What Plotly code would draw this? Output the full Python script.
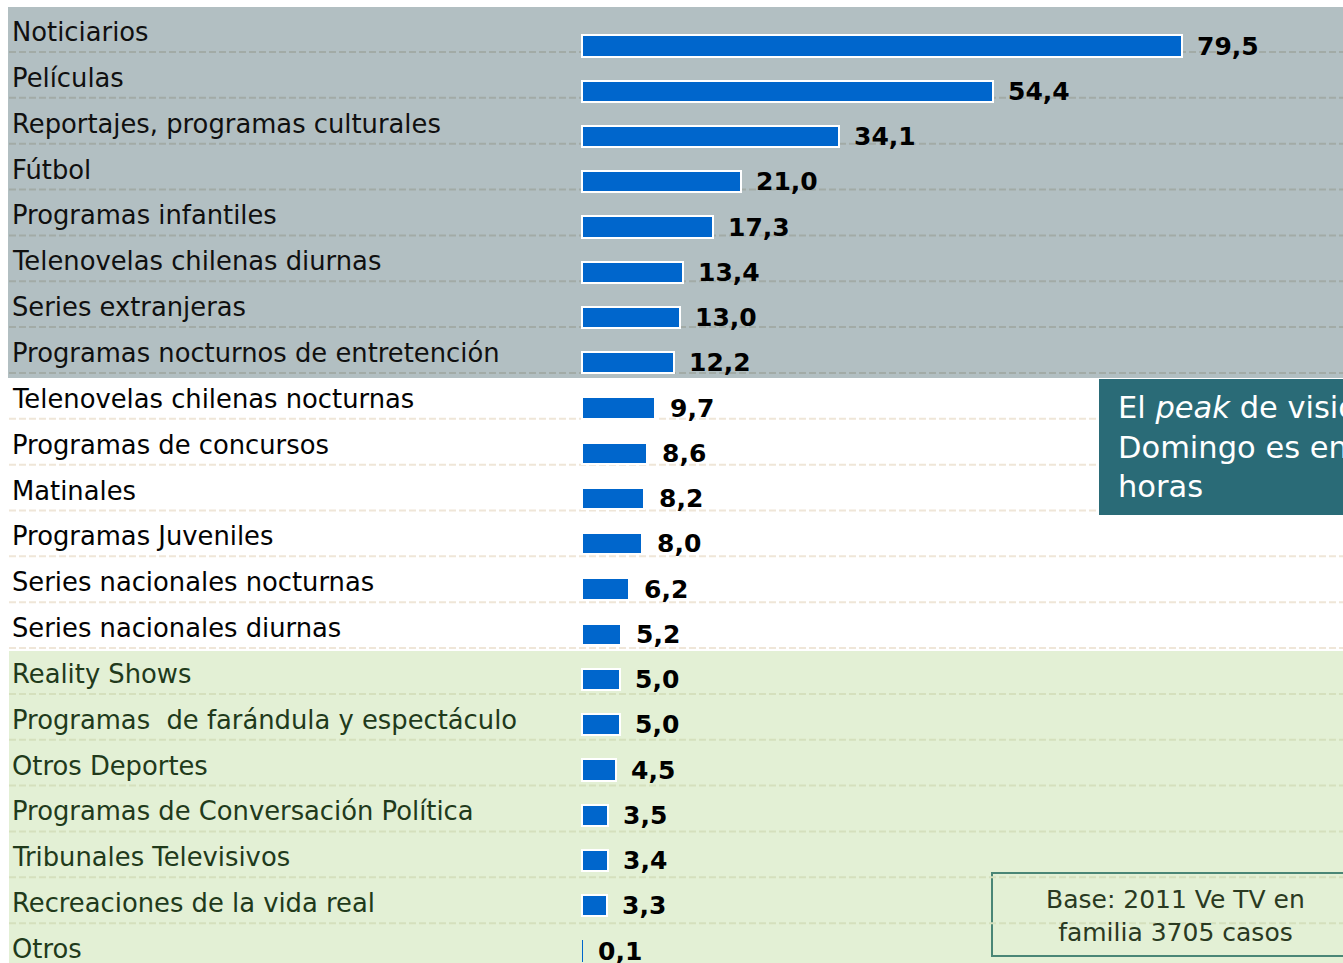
import plotly.graph_objects as go

categories = [
    "Noticiarios", "Películas", "Reportajes, programas culturales", "Fútbol",
    "Programas infantiles", "Telenovelas chilenas diurnas", "Series extranjeras",
    "Programas nocturnos de entretención", "Telenovelas chilenas nocturnas",
    "Programas de concursos", "Matinales", "Programas Juveniles",
    "Series nacionales nocturnas", "Series nacionales diurnas", "Reality Shows",
    "Programas\u00a0 de farándula y espectáculo", "Otros Deportes",
    "Programas de Conversación Política", "Tribunales Televisivos",
    "Recreaciones de la vida real", "Otros",
]
values = [79.5, 54.4, 34.1, 21.0, 17.3, 13.4, 13.0, 12.2, 9.7, 8.6, 8.2, 8.0,
          6.2, 5.2, 5.0, 5.0, 4.5, 3.5, 3.4, 3.3, 0.1]
groups = ["grey"] * 8 + ["white"] * 6 + ["green"] * 7

W, H = 1343, 963
X0PX, KX = 582, 7.55          # bar origin (page px), px per unit
Y0PX, KY = 46, 45.25          # first bar centre (page px), px per row
LBL0, LBLSTEP = 32, 45.85     # category label centres (page px)
n = len(categories)

def xp(px):
    return px / W

def yp(py):
    return 1 - py / H

def yu(py):
    return (py - Y0PX) / KY

band_col = {"grey": "#b2bfc2", "white": "#ffffff", "green": "#e3f0d5"}
grid_col = {"grey": "#a2aba6", "white": "#efe6d8", "green": "#d5e0bd"}
text_col = {"grey": "#101010", "white": "#030303", "green": "#213a1b"}

idx = list(range(n))
fig = go.Figure()
fig.add_trace(go.Bar(
    x=values, y=idx, orientation="h", width=0.47,
    marker=dict(color="#0066cc",
                line=dict(color="white", width=[2 if v >= 1 else 0 for v in values])),
    hoverinfo="skip",
))

shapes = []
# background bands
shapes.append(dict(type="rect", xref="paper", yref="paper", x0=xp(8), x1=1.05,
                   y0=yp(7), y1=yp(378), fillcolor=band_col["grey"], line_width=0, layer="below"))
shapes.append(dict(type="rect", xref="paper", yref="paper", x0=xp(9), x1=1.05,
                   y0=yp(651), y1=-0.05, fillcolor=band_col["green"], line_width=0, layer="below"))
# base box
shapes.append(dict(type="rect", xref="paper", yref="paper", x0=xp(992), x1=xp(1370),
                   y0=yp(873), y1=yp(956), fillcolor=band_col["green"],
                   line=dict(color="#4a8676", width=2), layer="below"))
# dashed separators
for i in range(n - 1):
    gy = yu(LBL0 + 20 + i * LBLSTEP)
    shapes.append(dict(type="line", xref="paper", yref="y", x0=xp(9), x1=1.02,
                       y0=gy, y1=gy, line=dict(color=grid_col[groups[i]], width=2, dash="7px,3px"),
                       layer="below"))
# teal callout box
shapes.append(dict(type="rect", xref="paper", yref="paper", x0=xp(1099), x1=1.05,
                   y0=yp(379), y1=yp(515), fillcolor="#2a6b77", line_width=0, layer="below"))

annotations = []
for i, (c, v, g) in enumerate(zip(categories, values, groups)):
    annotations.append(dict(
        text=c, xref="paper", yref="y", x=xp(10), y=yu(LBL0 + i * LBLSTEP),
        xanchor="left", yanchor="middle", showarrow=False,
        font=dict(family="DejaVu Sans", size=25.8, color=text_col[g]),
    ))
    annotations.append(dict(
        text=f"{v:.1f}".replace(".", ","), xref="x", yref="y", x=v, y=i,
        xanchor="left", yanchor="middle", xshift=13, showarrow=False,
        font=dict(family="DejaVu Sans", size=25, color="#000000", weight="bold"),
    ))

annotations.append(dict(
    text="El <i>peak</i> de visionado<br>Domingo es entre las<br>horas",
    xref="paper", yref="paper", x=xp(1116), y=yp(447), xanchor="left", yanchor="middle",
    align="left", showarrow=False,
    font=dict(family="DejaVu Sans", size=30.5, color="#ffffff"),
))
annotations.append(dict(
    text="Base: 2011 Ve TV en<br>familia 3705 casos",
    xref="paper", yref="paper", x=xp(1175), y=yp(916), xanchor="center", yanchor="middle",
    align="center", showarrow=False,
    font=dict(family="DejaVu Sans", size=25, color="#2a3a22"),
))

fig.update_layout(
    width=W, height=H, margin=dict(l=0, r=0, t=0, b=0),
    paper_bgcolor="white", plot_bgcolor="rgba(0,0,0,0)",
    showlegend=False, shapes=shapes, annotations=annotations,
    xaxis=dict(range=[-X0PX / KX, (W - X0PX) / KX], visible=False, fixedrange=True),
    yaxis=dict(range=[yu(H), yu(0)], visible=False, fixedrange=True),
    bargap=0,
)
fig.write_html(
    "out.html",
    config={"displayModeBar": False},
    post_script="document.body.style.margin='0';document.body.style.overflow='hidden';"
                "document.documentElement.style.overflow='hidden';",
)
